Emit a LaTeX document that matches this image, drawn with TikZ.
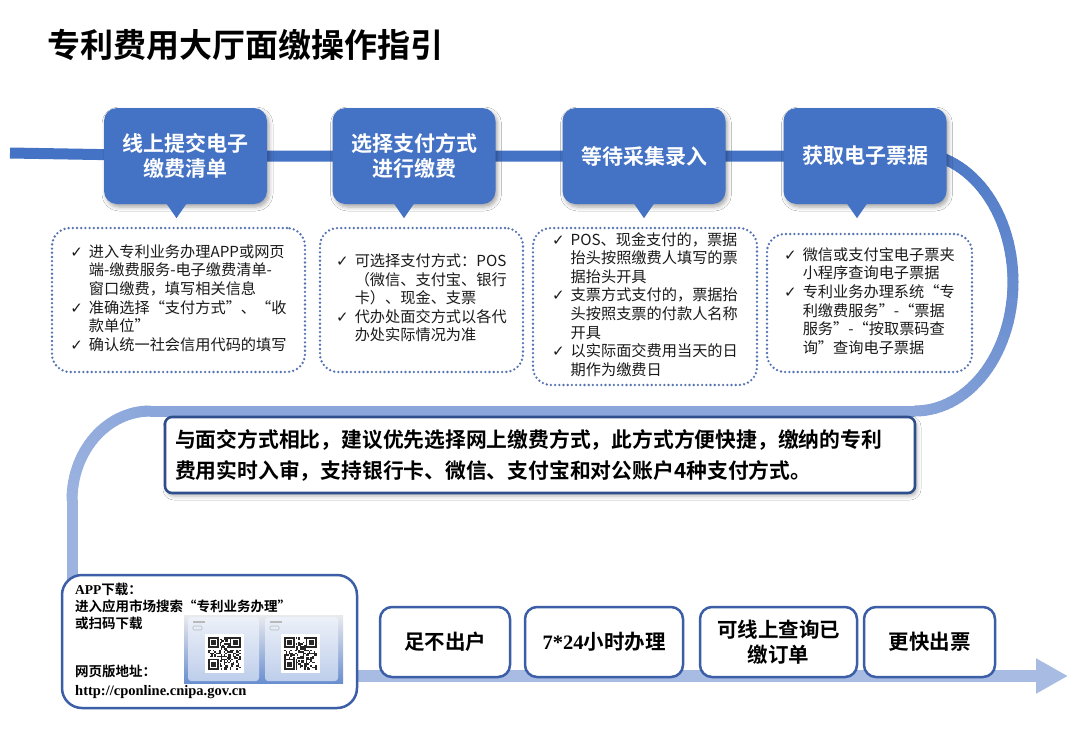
\documentclass[tikz,border=0pt]{standalone}
\usepackage{fontspec}
\setmainfont{Liberation Serif}
\newfontfamily\cjk{Noto Sans CJK SC}[BoldFont={Noto Sans CJK SC Bold}]
\newfontfamily\dvs{DejaVu Sans}
\usetikzlibrary{calc,arrows.meta,shadows.blur}
\definecolor{stepblue}{HTML}{4472C4}
\definecolor{lineA}{HTML}{4472C4}
\definecolor{lineB}{HTML}{8AA6DA}
\definecolor{lineC}{HTML}{9CB3E0}
\definecolor{arrowc}{HTML}{A7BBE3}
\definecolor{dotc}{HTML}{5573B3}
\definecolor{noteborder}{HTML}{2F4F8C}
\definecolor{boxborder}{HTML}{3B5EA6}
\definecolor{textc}{HTML}{1A1A1A}
\newcommand{\ck}{{\dvs\fontsize{15}{15}\selectfont ✓}}
\newcommand{\qrcode}[3]{%
  \fill[white] (#1,#2) rectangle ++(25*#3,25*#3);
  \foreach \i in {0,...,20}{\foreach \j in {0,...,20}{%
    \pgfmathrandominteger{\r}{0}{1}%
    \ifnum\r=1 \fill[black!85] ({#1+(2+\i)*#3},{#2+(2+\j)*#3}) rectangle ++(#3,#3);\fi}}
  \foreach \u/\v in {0/0,14/0,0/14}{%
    \fill[white] ({#1+(2+\u)*#3-0.01},{#2+(2+\v)*#3-0.01}) rectangle ++(8*#3,8*#3);
    \fill[black!85] ({#1+(2+\u)*#3},{#2+(2+\v)*#3}) rectangle ++(7*#3,7*#3);
    \fill[white] ({#1+(3+\u)*#3},{#2+(3+\v)*#3}) rectangle ++(5*#3,5*#3);
    \fill[black!85] ({#1+(4+\u)*#3},{#2+(4+\v)*#3}) rectangle ++(3*#3,3*#3);}
}
\begin{document}
\begin{tikzpicture}[x=1pt,y=-1pt,
  stepbox/.style={fill=stepblue, rounded corners=13, minimum width=163, minimum height=96, inner sep=0,
    text=white, align=center, font=\cjk\bfseries\fontsize{21}{25}\selectfont,
    blur shadow={shadow xshift=2pt, shadow yshift=-3pt, shadow opacity=35, shadow blur radius=4pt}},
  dotbox/.style={draw=dotc, line width=2.6, dash pattern=on 0pt off 4.2pt, line cap=round,
    rounded corners=18, fill=white, inner sep=0, text=textc,
    font=\cjk\fontsize{15.2}{18.6}\selectfont},
  notebox/.style={draw=noteborder, line width=2.6, fill=white, rounded corners=7, minimum width=750,
    minimum height=76, inner xsep=10, inner ysep=0, text width=730, align=left, text=black,
    font=\cjk\bfseries\fontsize{20.8}{31}\selectfont,
    blur shadow={shadow xshift=2pt, shadow yshift=-3pt, shadow opacity=30, shadow blur radius=4pt}},
  benefit/.style={draw=boxborder, line width=2.5, fill=white, rounded corners=12, minimum height=70,
    inner sep=0, align=center, text=black, font=\cjk\bfseries\fontsize{20.5}{25}\selectfont},
  appbox/.style={draw=boxborder, line width=2.5, fill=white, rounded corners=20, minimum width=295,
    minimum height=133, inner sep=0},
  apptext/.style={anchor=north west, inner sep=0, align=left, text=black,
    font=\cjk\bfseries\fontsize{13.5}{17}\selectfont},
  topline/.style={line width=11, color=lineA},
]
\useasboundingbox (0,0) rectangle (1080,748);
\fill[white] (0,0) rectangle (1080,748);

% title
\node[anchor=west, inner sep=0, font=\cjk\bfseries\fontsize{33}{33}\selectfont, text=black] (title) at (47,45) {专利费用大厅面缴操作指引};

% coordinates for the path
\coordinate (L0) at (10,153);
\coordinate (rc) at (915,282);
\coordinate (M0) at (915,411);
\coordinate (lc) at (150,500);
\coordinate (M1) at (150,411);
\coordinate (V0) at (72,500);
\coordinate (V1) at (72,676);
\coordinate (tip) at (1068,676);

\path (185.5,156) coordinate (c1) (414,156) coordinate (c2) (644,156) coordinate (c3) (865,156) coordinate (c4);
\draw[topline] (L0) -- (c1) -- (c2) -- (c3) -- (c4) -- (915,153);

% right curve (gradient)
\foreach \a in {-90,-87,...,87}{
  \pgfmathsetmacro{\p}{(\a+90)/1.8}
  \pgfmathsetmacro{\b}{\a+3}
  \draw[line width=11, line cap=round, color=lineB!\p!lineA] ([shift={(rc)}]\a:98 and 129) -- ([shift={(rc)}]\b:98 and 129);
}
\draw[line width=11, color=lineB] (M0) -- (M1);
% left arc
\foreach \a in {-90,-93,...,-177}{
  \pgfmathsetmacro{\p}{(-90-\a)/0.9}
  \pgfmathsetmacro{\b}{\a-3}
  \draw[line width=11, line cap=round, color=lineC!\p!lineB] ([shift={(lc)}]\a:78 and 89) -- ([shift={(lc)}]\b:78 and 89);
}
\draw[line width=11, color=lineC] (V0) -- (V1);
\draw[line width=12, color=arrowc, -{Triangle[length=32pt,width=33pt]}] (V1) -- (tip);

% step boxes
\node[stepbox] (s1) at (c1) {线上提交电子\\缴费清单};
\node[stepbox] (s2) at (c2) {选择支付方式\\进行缴费};
\node[stepbox] (s3) at (c3) {等待采集录入};
\node[stepbox] (s4) at (c4) {获取电子票据};
\foreach \n/\o in {s1/-9,s2/-10,s3/0,s4/-8}{
  \fill[stepblue] ($(\n.south)+(\o-11,-2)$) -- ($(\n.south)+(\o,14)$) -- ($(\n.south)+(\o+11,-2)$) -- cycle;
}

% dotted boxes
\node[dotbox, minimum width=253, minimum height=144] (d1) at (178.5,300) {%
\begin{tabular}{@{}l@{\hspace{6pt}}l@{}}
\ck & 进入专利业务办理APP或网页\\
 & 端-缴费服务-电子缴费清单-\\
 & 窗口缴费，填写相关信息\\
\ck & 准确选择“支付方式”、“收\\
 & 款单位”\\
\ck & 确认统一社会信用代码的填写
\end{tabular}};
\node[dotbox, minimum width=203, minimum height=144] (d2) at (421.5,300) {%
\begin{tabular}{@{}l@{\hspace{6pt}}l@{}}
\ck & 可选择支付方式：POS\\
 & （微信、支付宝、银行\\
 & 卡）、现金、支票\\
\ck & 代办处面交方式以各代\\
 & 办处实际情况为准
\end{tabular}};
\node[dotbox, minimum width=224, minimum height=157] (d3) at (645,306.5) {%
\begin{tabular}{@{}l@{\hspace{6pt}}l@{}}
\ck & POS、现金支付的，票据\\
 & 抬头按照缴费人填写的票\\
 & 据抬头开具\\
\ck & 支票方式支付的，票据抬\\
 & 头按照支票的付款人名称\\
 & 开具\\
\ck & 以实际面交费用当天的日\\
 & 期作为缴费日
\end{tabular}};
\node[dotbox, minimum width=205, minimum height=138] (d4) at (869.5,303) {%
\begin{tabular}{@{}l@{\hspace{6pt}}l@{}}
\ck & 微信或支付宝电子票夹\\
 & 小程序查询电子票据\\
\ck & 专利业务办理系统“专\\
 & 利缴费服务”-“票据\\
 & 服务”-“按取票码查\\
 & 询”查询电子票据
\end{tabular}};

% note
\node[notebox] (note) at (540,455) {与面交方式相比，建议优先选择网上缴费方式，此方式方便快捷，缴纳的专利\\费用实时入审，支持银行卡、微信、支付宝和对公账户4种支付方式。};

% app box
\node[appbox] (app) at (209.5,641.5) {};
\node[apptext] (app1) at (75,583) {{\rmfamily APP}下载：\\进入应用市场搜索“专利业务办理”\\或扫码下载};
\node[apptext] (app2) at (75,665) {网页版地址：\\[2pt]{\rmfamily\fontsize{14.5}{17}\selectfont http://cponline.cnipa.gov.cn}};

% QR picture
\shade[top color=blue!8!gray!15, bottom color=stepblue!80] (184,615) rectangle (343,683);
\shade[top color=white!90!stepblue, bottom color=stepblue!35, rounded corners=3] (188,617) rectangle (259,681);
\shade[top color=white!90!stepblue, bottom color=stepblue!35, rounded corners=3] (265,617) rectangle (338,681);
\fill[gray!55] (193,621) rectangle (205,623);
\draw[gray!55, line width=0.6, rounded corners=1] (193,626) rectangle (202,630);
\fill[gray!55] (270,621) rectangle (282,623);
\draw[gray!55, line width=0.6, rounded corners=1] (270,626) rectangle (279,630);
\pgfmathsetseed{42}
\qrcode{205}{634}{1.55}
\qrcode{281}{634}{1.55}

% benefit boxes
\node[benefit, minimum width=130] (b1) at (445,642) {足不出户};
\node[benefit, minimum width=158] (b2) at (604,642) {{\rmfamily 7*24}小时办理};
\node[benefit, minimum width=157] (b3) at (778.5,642) {可线上查询已\\缴订单};
\node[benefit, minimum width=131] (b4) at (929.5,642) {更快出票};
\end{tikzpicture}
\end{document}
